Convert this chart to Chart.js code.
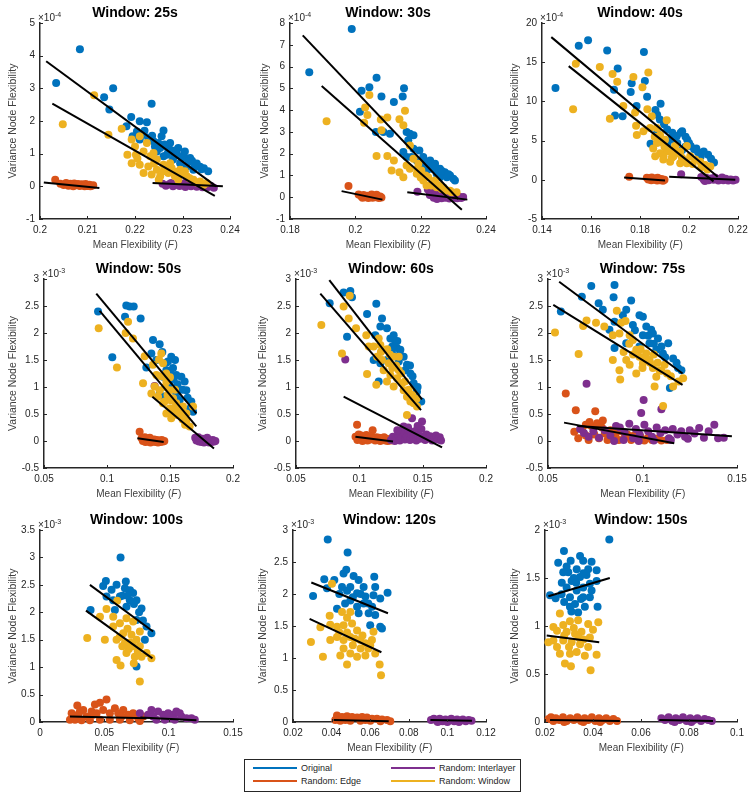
<!DOCTYPE html>
<html>
<head>
<meta charset="utf-8">
<script src="https://cdn.jsdelivr.net/npm/chart.js@4.4.1/dist/chart.umd.min.js"></script>
<style>
  html, body { margin: 0; padding: 0; background: #fff; }
  #stage { position: relative; width: 754px; height: 797px; overflow: hidden; }
  #stage canvas { position: absolute; }
  .legend { position: absolute; left: 244px; top: 759px; width: 275px; height: 31px;
    border: 1px solid #262626; background: #fff; font: 9px "Liberation Sans", Arial, sans-serif; color: #262626; }
  .legend .it { position: absolute; height: 13px; line-height: 13px; white-space: nowrap; }
  .legend .ln { display: inline-block; width: 44px; height: 2px; vertical-align: middle; margin-right: 4px; position: relative; top: -1px; }
</style>
</head>
<body>
<div id="stage">
  <div class="legend">
    <div class="it" style="left:8px;top:2px"><span class="ln" style="background:#0072BD"></span>Original</div>
    <div class="it" style="left:8px;top:15px"><span class="ln" style="background:#D95319"></span>Random: Edge</div>
    <div class="it" style="left:146px;top:2px"><span class="ln" style="background:#7E2F8E"></span>Random: Interlayer</div>
    <div class="it" style="left:146px;top:15px"><span class="ln" style="background:#EDB120"></span>Random: Window</div>
  </div>
</div>
<script>
// ---------- Data (y values in units of the exponent shown on each axis) ----------
const SERIES_NAMES = ['Original', 'Random: Edge', 'Random: Interlayer', 'Random: Window'];

// Window 25s  (y x 1e-4)
const X_TICKS_25 = [0.2, 0.21, 0.22, 0.23, 0.24];
const Y_TICKS_25 = [-1, 0, 1, 2, 3, 4, 5];
const W25_ORIG = [[0.2084,4.20],[0.2034,3.16],[0.2135,2.73],[0.2154,3.00],[0.2146,2.35],[0.2235,2.53],[0.2192,2.12],[0.2210,1.99],[0.2225,1.96],[0.2260,1.71],[0.2256,1.53],[0.2182,1.84],[0.2195,1.53],[0.2204,1.68],[0.2218,1.58],[0.2210,1.43],[0.2228,1.48],[0.2239,1.38],[0.2249,1.33],[0.2242,1.22],[0.2253,1.17],[0.2267,1.22],[0.2274,1.12],[0.2274,1.33],[0.2246,1.07],[0.2267,0.97],[0.2260,0.92],[0.2288,1.02],[0.2291,1.17],[0.2302,0.94],[0.2305,1.07],[0.2280,0.82],[0.2295,0.71],[0.2316,0.87],[0.2309,0.61],[0.2330,0.70],[0.2323,0.51],[0.2337,0.60],[0.2354,0.46],[0.2345,0.55],[0.2283,0.95],[0.2320,0.78],[0.2232,1.42],[0.2262,1.28],[0.2285,1.10],[0.2298,0.85],[0.2312,0.75],[0.2326,0.62],[0.2340,0.52],[0.2220,1.70],[0.2236,1.55],[0.2270,1.05]];
const W25_EDGE = [[0.2032,0.20],[0.2043,0.08],[0.2050,0.04],[0.2055,0.10],[0.2060,0.02],[0.2064,0.08],[0.2068,0.04],[0.2072,0.09],[0.2076,0.03],[0.2080,0.07],[0.2084,0.01],[0.2088,0.06],[0.2092,0.03],[0.2096,0.07],[0.2100,0.01],[0.2104,0.05],[0.2108,0.02],[0.2112,0.03],[0.2058,0.06],[0.2070,0.00],[0.2082,0.03],[0.2094,0.00],[0.2106,0.00]];
const W25_INTER = [[0.2258,0.08],[0.2265,0.02],[0.2272,0.06],[0.2280,0.00],[0.2287,0.05],[0.2294,0.01],[0.2300,0.07],[0.2306,-0.02],[0.2312,0.04],[0.2318,0.00],[0.2324,0.05],[0.2330,-0.01],[0.2336,0.03],[0.2342,-0.03],[0.2348,0.02],[0.2354,-0.02],[0.2360,0.01],[0.2366,-0.04],[0.2290,0.09],[0.2305,0.10],[0.2320,0.08],[0.2276,0.10],[0.2340,0.07]];
const W25_WIN = [[0.2114,2.79],[0.2048,1.90],[0.2144,1.58],[0.2172,1.76],[0.2184,0.97],[0.2193,0.71],[0.2210,0.66],[0.2202,0.97],[0.2218,1.07],[0.2200,1.22],[0.2232,0.92],[0.2235,0.36],[0.2246,0.51],[0.2260,0.66],[0.2270,0.41],[0.2284,0.31],[0.2295,0.51],[0.2309,0.31],[0.2323,0.20],[0.2337,0.15],[0.2351,0.10],[0.2274,0.71],[0.2246,0.82],[0.2228,0.61],[0.2218,0.41],[0.2253,0.31],[0.2260,0.46],[0.2277,0.56],[0.2291,0.20],[0.2305,0.46],[0.2193,1.43],[0.2225,1.33],[0.2239,1.02],[0.2210,1.53],[0.2240,0.70],[0.2265,0.58],[0.2285,0.45],[0.2300,0.38],[0.2315,0.25],[0.2330,0.12],[0.2250,0.20],[0.2205,0.85],[0.2345,0.05]];
const W25_FITS = [[0.2013,3.83,0.2371,0.00],[0.2008,0.12,0.2125,-0.05],[0.2237,0.10,0.2385,0.00],[0.2026,2.53,0.2368,-0.29]];

// Window 30s  (y x 1e-4)
const X_TICKS_30 = [0.18, 0.2, 0.22, 0.24];
const Y_TICKS_30 = [-1, 0, 1, 2, 3, 4, 5, 6, 7, 8];
const W30_ORIG = [[0.1989,7.72],[0.1859,5.74],[0.2065,5.49],[0.2043,5.05],[0.2019,4.89],[0.2080,4.62],[0.2118,4.37],[0.2149,5.00],[0.2145,4.62],[0.2014,3.92],[0.2157,3.00],[0.2167,2.92],[0.2178,2.85],[0.2063,3.00],[0.2086,3.00],[0.2106,2.92],[0.2196,2.15],[0.2178,2.23],[0.2147,2.08],[0.2157,1.85],[0.2208,1.85],[0.2229,1.69],[0.2244,1.54],[0.2233,1.31],[0.2259,1.31],[0.2274,1.15],[0.2290,1.00],[0.2305,0.77],[0.2280,0.92],[0.2249,1.08],[0.2218,1.23],[0.2202,1.46],[0.2188,1.69],[0.2172,1.85],[0.2162,2.62],[0.2259,0.92],[0.2220,1.55],[0.2240,1.40],[0.2265,1.20],[0.2285,1.05],[0.2300,0.85],[0.2210,1.70]];
const W30_EDGE = [[0.1979,0.51],[0.2010,0.12],[0.2018,0.04],[0.2025,0.10],[0.2030,0.00],[0.2036,0.07],[0.2042,0.02],[0.2048,0.09],[0.2053,-0.02],[0.2058,0.05],[0.2063,0.00],[0.2068,0.06],[0.2072,-0.03],[0.2076,0.03],[0.2080,-0.01],[0.2040,-0.03],[0.2050,0.13],[0.2022,-0.02],[0.2065,0.11]];
const W30_INTER = [[0.2190,0.25],[0.2222,0.35],[0.2228,0.10],[0.2234,0.22],[0.2240,-0.02],[0.2246,0.12],[0.2252,0.02],[0.2258,0.18],[0.2264,-0.05],[0.2270,0.08],[0.2276,-0.02],[0.2282,0.12],[0.2288,-0.06],[0.2294,0.05],[0.2300,-0.03],[0.2306,0.08],[0.2312,-0.05],[0.2318,0.02],[0.2324,-0.04],[0.2330,0.01],[0.2260,0.28],[0.2285,0.25],[0.2250,-0.08]];
const W30_WIN = [[0.1912,3.49],[0.2043,4.69],[0.2030,4.12],[0.2037,3.77],[0.2027,3.42],[0.2078,3.57],[0.2098,3.66],[0.2135,3.58],[0.2152,3.97],[0.2147,3.31],[0.2080,3.08],[0.2065,1.89],[0.2098,1.89],[0.2118,1.69],[0.2135,1.15],[0.2147,0.92],[0.2157,1.46],[0.2167,1.31],[0.2178,1.77],[0.2193,1.54],[0.2202,1.23],[0.2208,0.77],[0.2223,0.92],[0.2233,0.54],[0.2249,0.46],[0.2264,0.38],[0.2280,0.31],[0.2295,0.23],[0.2310,0.23],[0.2218,0.54],[0.2244,0.77],[0.2188,1.08],[0.2167,2.38],[0.2111,1.23],[0.2190,1.30],[0.2215,1.00],[0.2240,0.65],[0.2255,0.55],[0.2270,0.45],[0.2290,0.30],[0.2200,0.90]];
const W30_FITS = [[0.1839,7.43,0.2315,-0.08],[0.1958,0.28,0.2083,-0.11],[0.2159,0.23,0.2343,-0.11],[0.1897,5.11,0.2326,-0.57]];

// Window 40s  (y x 1e-4)
const X_TICKS_40 = [0.14, 0.16, 0.18, 0.2, 0.22];
const Y_TICKS_40 = [-5, 0, 5, 10, 15, 20];
const W40_ORIG = [[0.1455,11.7],[0.1550,17.1],[0.1588,17.8],[0.1666,16.5],[0.1709,14.2],[0.1816,16.3],[0.1694,11.5],[0.1698,8.2],[0.1729,8.1],[0.1766,12.3],[0.1762,11.2],[0.1820,12.6],[0.1829,10.6],[0.1786,9.4],[0.1863,8.9],[0.1884,9.7],[0.1870,8.3],[0.1881,7.7],[0.1898,7.1],[0.1911,6.4],[0.1932,6.0],[0.1939,5.3],[0.1966,6.0],[0.1972,6.2],[0.1986,5.5],[0.1993,5.1],[0.2021,3.9],[0.2037,3.5],[0.2078,3.2],[0.2102,2.2],[0.1843,4.6],[0.1911,4.5],[0.1952,4.7],[0.1870,6.0],[0.2048,3.0],[0.2007,4.3],[0.1925,5.1],[0.1972,3.8],[0.1950,5.6],[0.2000,4.7],[0.2030,4.0],[0.2060,3.6],[0.1985,4.2],[0.2090,2.7]];
const W40_EDGE = [[0.1756,0.40],[0.1828,0.25],[0.1834,0.05],[0.1840,0.20],[0.1846,-0.05],[0.1852,0.12],[0.1858,0.00],[0.1864,0.18],[0.1870,-0.10],[0.1876,0.08],[0.1882,-0.05],[0.1888,0.10],[0.1894,-0.12],[0.1900,0.02],[0.1848,0.30],[0.1872,0.25]];
const W40_INTER = [[0.1968,0.70],[0.2050,0.35],[0.2060,0.05],[0.2070,0.25],[0.2080,-0.05],[0.2090,0.15],[0.2100,0.00],[0.2110,0.20],[0.2120,-0.10],[0.2130,0.10],[0.2140,-0.05],[0.2150,0.12],[0.2160,-0.08],[0.2170,0.05],[0.2180,-0.10],[0.2190,0.02],[0.2105,0.30],[0.2135,0.28],[0.2065,-0.15]];
const W40_WIN = [[0.1527,9.0],[0.1538,14.8],[0.1636,14.4],[0.1688,13.5],[0.1707,12.5],[0.1773,13.1],[0.1810,11.8],[0.1834,13.7],[0.1732,9.4],[0.1677,7.8],[0.1780,8.6],[0.1830,9.0],[0.1784,6.9],[0.1787,5.7],[0.1814,6.2],[0.1848,8.1],[0.1841,6.6],[0.1869,6.6],[0.1882,5.7],[0.1909,7.6],[0.1902,5.1],[0.1854,4.0],[0.1862,3.0],[0.1882,3.4],[0.1909,3.8],[0.1923,2.3],[0.1937,3.0],[0.1964,3.6],[0.1991,4.3],[0.2005,3.0],[0.2026,2.6],[0.2046,2.3],[0.2066,1.9],[0.2087,1.7],[0.1964,2.1],[0.1896,3.0],[0.1943,4.3],[0.1971,2.8],[0.1869,4.7],[0.1991,2.1],[0.1880,4.8],[0.1900,4.2],[0.1920,3.6],[0.1950,3.4],[0.1980,2.5],[0.2015,2.0],[0.1930,2.8],[0.1860,5.5],[0.1895,2.6],[0.2050,1.6],[0.2075,1.3]];
const W40_FITS = [[0.1438,18.2,0.2117,0.4],[0.1735,0.3,0.1902,-0.1],[0.1919,0.4,0.2189,0.0],[0.1509,14.5,0.2100,-0.2]];

// Window 50s  (y x 1e-3)
const X_TICKS_50 = [0.05, 0.1, 0.15, 0.2];
const Y_TICKS_50 = [-0.5, 0, 0.5, 1, 1.5, 2, 2.5, 3];
const W50_ORIG = [[0.0929,2.40],[0.1042,1.55],[0.1153,2.51],[0.1180,2.49],[0.1212,2.49],[0.1143,2.30],[0.1267,2.27],[0.1365,1.87],[0.1418,1.79],[0.1439,1.65],[0.1352,1.62],[0.1312,1.36],[0.1392,1.50],[0.1484,1.47],[0.1524,1.35],[0.1550,1.22],[0.1590,1.19],[0.1616,1.10],[0.1630,0.94],[0.1669,0.73],[0.1683,0.54],[0.1445,1.19],[0.1497,1.07],[0.1418,0.88],[0.1550,0.88],[0.1577,0.76],[0.1471,1.31],[0.1458,0.82],[0.1510,1.56],[0.1500,1.30],[0.1530,1.15],[0.1560,1.05],[0.1600,0.95],[0.1640,0.80],[0.1660,0.60],[0.1470,1.45],[0.1540,1.50]];
const W50_EDGE = [[0.1259,0.17],[0.1275,0.05],[0.1285,0.00],[0.1295,0.04],[0.1305,-0.02],[0.1315,0.03],[0.1325,-0.01],[0.1335,0.04],[0.1345,-0.03],[0.1355,0.02],[0.1365,-0.01],[0.1375,0.03],[0.1385,-0.02],[0.1395,0.02],[0.1405,-0.03],[0.1415,0.01],[0.1425,-0.02],[0.1435,0.02],[0.1445,-0.01],[0.1455,0.00],[0.1300,0.07],[0.1340,0.06]];
const W50_INTER = [[0.1378,1.02],[0.1700,0.06],[0.1710,0.01],[0.1720,0.04],[0.1730,-0.01],[0.1740,0.03],[0.1750,-0.02],[0.1760,0.04],[0.1770,-0.03],[0.1780,0.02],[0.1790,-0.02],[0.1800,0.03],[0.1810,-0.03],[0.1820,0.01],[0.1830,-0.02],[0.1840,0.02],[0.1850,-0.01],[0.1860,0.00],[0.1725,0.07],[0.1795,0.06]];
const W50_WIN = [[0.0934,2.09],[0.1079,1.36],[0.1167,2.21],[0.1148,2.00],[0.1206,1.90],[0.1286,1.07],[0.1299,1.57],[0.1365,1.41],[0.1413,1.51],[0.1431,1.62],[0.1445,1.44],[0.1392,1.22],[0.1378,1.01],[0.1418,0.94],[0.1471,1.10],[0.1497,0.94],[0.1524,0.79],[0.1550,0.70],[0.1577,0.57],[0.1590,0.45],[0.1630,0.38],[0.1656,0.27],[0.1471,0.51],[0.1445,0.70],[0.1497,0.60],[0.1405,0.82],[0.1352,0.88],[0.1524,0.51],[0.1603,0.64],[0.1683,0.64],[0.1630,0.51],[0.1510,0.42],[0.1458,0.73],[0.1430,1.20],[0.1460,1.00],[0.1480,0.85],[0.1510,0.75],[0.1540,0.62],[0.1560,0.48],[0.1600,0.40],[0.1620,0.30],[0.1470,1.25],[0.1500,1.18],[0.1540,0.95]];
const W50_FITS = [[0.0915,2.73,0.1709,0.51],[0.1241,0.05,0.1450,-0.02],[0.1360,0.82,0.1849,-0.14],[0.0942,2.41,0.1709,0.27]];

// Window 60s  (y x 1e-3)
const X_TICKS_60 = [0.05, 0.1, 0.15, 0.2];
const Y_TICKS_60 = [-0.5, 0, 0.5, 1, 1.5, 2, 2.5, 3];
const W60_ORIG = [[0.0766,2.55],[0.0876,2.75],[0.0929,2.78],[0.0942,2.66],[0.0903,1.93],[0.1061,2.35],[0.1134,2.54],[0.1179,2.27],[0.1166,2.12],[0.1218,2.09],[0.1126,1.96],[0.1245,1.90],[0.1271,1.96],[0.1284,1.84],[0.1297,1.72],[0.1324,1.69],[0.1350,1.56],[0.1376,1.41],[0.1403,1.25],[0.1429,1.07],[0.1455,0.91],[0.1489,0.73],[0.1166,1.44],[0.1113,1.50],[0.1218,1.50],[0.1153,1.10],[0.1258,1.62],[0.1311,1.47],[0.1363,1.31],[0.1260,1.75],[0.1300,1.85],[0.1320,1.60],[0.1400,1.40],[0.1420,1.20],[0.1460,1.00]];
const W60_EDGE = [[0.0982,0.30],[0.1105,0.20],[0.0970,0.08],[0.0985,0.02],[0.0995,0.12],[0.1005,0.04],[0.1015,0.10],[0.1025,0.00],[0.1035,0.08],[0.1045,0.03],[0.1055,0.11],[0.1065,0.01],[0.1075,0.07],[0.1085,0.03],[0.1095,0.09],[0.1115,0.05],[0.1125,0.01],[0.1135,0.07],[0.1145,0.02],[0.1155,0.06],[0.1165,0.00],[0.1175,0.05],[0.1185,0.02],[0.1195,0.07],[0.1205,0.01],[0.1215,0.04],[0.1225,0.00],[0.1235,0.03],[0.1250,0.01],[0.1265,0.02]];
const W60_INTER = [[0.0889,1.51],[0.1416,0.42],[0.1495,0.36],[0.1350,0.27],[0.1250,0.02],[0.1265,0.08],[0.1280,0.00],[0.1295,0.05],[0.1310,0.10],[0.1320,0.01],[0.1335,0.06],[0.1345,0.16],[0.1360,0.03],[0.1375,0.09],[0.1390,0.20],[0.1400,0.02],[0.1410,0.12],[0.1425,0.05],[0.1440,0.18],[0.1450,0.01],[0.1465,0.10],[0.1480,0.04],[0.1490,0.22],[0.1505,0.08],[0.1520,0.02],[0.1530,0.12],[0.1545,0.05],[0.1560,0.09],[0.1575,0.01],[0.1590,0.06],[0.1605,0.10],[0.1620,0.03],[0.1635,0.07],[0.1645,0.01],[0.1300,0.20],[0.1385,0.25],[0.1460,0.28]];
const W60_WIN = [[0.0700,2.15],[0.0876,2.49],[0.0924,2.69],[0.0916,2.27],[0.0974,2.09],[0.0863,1.62],[0.1055,1.96],[0.1061,1.24],[0.1134,1.04],[0.1113,1.75],[0.1166,1.78],[0.1192,1.69],[0.1140,1.56],[0.1179,1.50],[0.1232,1.44],[0.1271,1.56],[0.1311,1.56],[0.1192,1.31],[0.1245,1.22],[0.1297,1.16],[0.1337,1.07],[0.1350,0.94],[0.1376,0.82],[0.1403,0.73],[0.1429,0.70],[0.1376,0.48],[0.1455,0.64],[0.1271,1.01],[0.1218,1.10],[0.1311,1.31],[0.1153,1.90],[0.1074,1.75],[0.1220,1.70],[0.1260,1.35],[0.1290,1.40],[0.1330,1.25],[0.1360,1.10],[0.1390,0.95],[0.1420,0.85],[0.1450,0.78],[0.1240,1.60],[0.1170,1.65]];
const W60_FITS = [[0.0763,2.98,0.1495,0.77],[0.0969,0.08,0.1266,-0.01],[0.0876,0.82,0.1653,-0.12],[0.0692,2.73,0.1487,0.57]];

// Window 75s  (y x 1e-3)
const X_TICKS_75 = [0.05, 0.1, 0.15];
const Y_TICKS_75 = [-0.5, 0, 0.5, 1, 1.5, 2, 2.5, 3];
const W75_ORIG = [[0.0568,2.40],[0.0679,2.67],[0.0729,2.87],[0.0852,2.89],[0.0847,2.66],[0.0768,2.55],[0.0790,2.43],[0.0940,2.60],[0.0914,2.43],[0.0896,2.33],[0.0852,2.21],[0.0825,2.06],[0.0852,1.72],[0.0949,2.15],[0.0984,2.33],[0.1002,2.30],[0.1020,2.12],[0.1046,2.06],[0.1055,1.99],[0.1082,1.90],[0.1073,1.69],[0.1108,1.62],[0.1136,1.81],[0.1162,1.53],[0.1188,1.35],[0.1206,1.31],[0.1145,0.98],[0.0914,1.81],[0.0984,1.75],[0.1037,1.81],[0.1002,1.96],[0.1030,1.95],[0.1100,1.75],[0.1120,1.55],[0.1180,1.45],[0.1060,1.80],[0.0960,2.05]];
const W75_EDGE = [[0.0594,0.88],[0.0647,0.57],[0.0750,0.55],[0.0639,0.17],[0.0660,0.05],[0.0680,0.22],[0.0700,0.10],[0.0715,0.02],[0.0730,0.28],[0.0745,0.12],[0.0760,0.33],[0.0770,0.05],[0.0785,0.25],[0.0800,0.14],[0.0815,0.02],[0.0830,0.20],[0.0845,0.08],[0.0860,0.15],[0.0875,0.02],[0.0890,0.18],[0.0905,0.06],[0.0920,0.12],[0.0940,0.02],[0.0955,0.10],[0.0970,0.04],[0.0990,0.08],[0.1010,0.01],[0.1030,0.06],[0.1050,0.02],[0.1075,0.04],[0.1100,0.01],[0.1130,0.02],[0.0720,0.35],[0.0790,0.38],[0.0700,0.30]];
const W75_INTER = [[0.0704,1.06],[0.1006,0.76],[0.0993,0.52],[0.1100,0.59],[0.0670,0.22],[0.0690,0.15],[0.0715,0.08],[0.0740,0.18],[0.0770,0.06],[0.0800,0.20],[0.0830,0.10],[0.0860,0.28],[0.0880,0.25],[0.0905,0.16],[0.0930,0.32],[0.0950,0.05],[0.0965,0.22],[0.0985,0.12],[0.1010,0.30],[0.1030,0.18],[0.1050,0.08],[0.1075,0.25],[0.1095,0.15],[0.1120,0.20],[0.1140,0.05],[0.1160,0.22],[0.1185,0.12],[0.1205,0.18],[0.1225,0.08],[0.1250,0.20],[0.1275,0.14],[0.1300,0.24],[0.1325,0.06],[0.1350,0.18],[0.1380,0.30],[0.1400,0.05],[0.1430,0.06],[0.0900,0.02],[0.0980,0.00],[0.1060,0.01],[0.1150,0.02],[0.1240,0.04],[0.0850,0.00]];
const W75_WIN = [[0.0537,2.01],[0.0686,2.13],[0.0662,1.61],[0.0704,2.23],[0.0754,2.19],[0.0798,2.12],[0.0864,2.41],[0.0887,2.19],[0.0843,1.96],[0.0878,1.99],[0.0910,2.22],[0.0932,1.96],[0.0949,1.87],[0.0843,1.50],[0.0878,1.31],[0.0882,1.14],[0.0914,1.50],[0.0932,1.41],[0.0967,1.69],[0.0984,1.56],[0.1002,1.44],[0.1020,1.62],[0.1037,1.50],[0.1055,1.35],[0.1073,1.19],[0.1064,1.01],[0.1090,1.31],[0.1117,1.41],[0.1162,1.01],[0.1215,1.16],[0.0967,1.25],[0.1109,0.65],[0.0950,1.60],[0.0990,1.70],[0.1010,1.55],[0.1040,1.45],[0.1060,1.60],[0.1080,1.45],[0.1100,1.30],[0.1130,1.25],[0.1150,1.20],[0.0900,1.65],[0.0930,1.80],[0.1190,1.10],[0.1000,1.35]];
const W75_FITS = [[0.0559,2.95,0.1212,1.25],[0.0585,0.34,0.1168,-0.04],[0.0656,0.28,0.1473,0.09],[0.0528,2.52,0.1212,1.04]];

// Window 100s  (y x 1e-3)
const X_TICKS_100 = [0, 0.05, 0.1, 0.15];
const Y_TICKS_100 = [0, 0.5, 1, 1.5, 2, 2.5, 3, 3.5];
const W100_ORIG = [[0.0626,3.00],[0.0393,2.04],[0.0512,2.57],[0.0491,2.48],[0.0556,2.41],[0.0595,2.50],[0.0667,2.56],[0.0660,2.44],[0.0724,2.35],[0.0750,2.22],[0.0698,2.22],[0.0672,2.10],[0.0621,2.29],[0.0569,2.22],[0.0517,2.29],[0.0582,2.04],[0.0789,2.07],[0.0750,1.86],[0.0828,1.74],[0.0866,1.62],[0.0815,1.50],[0.0750,1.01],[0.0640,2.30],[0.0700,2.40],[0.0730,2.15],[0.0770,2.00],[0.0800,1.85],[0.0680,2.30]];
const W100_EDGE = [[0.0290,0.30],[0.0517,0.41],[0.0466,0.35],[0.0427,0.32],[0.0336,0.22],[0.0246,0.16],[0.0297,0.13],[0.0362,0.10],[0.0401,0.19],[0.0440,0.16],[0.0491,0.22],[0.0543,0.16],[0.0582,0.25],[0.0608,0.16],[0.0647,0.22],[0.0685,0.13],[0.0724,0.16],[0.0763,0.07],[0.0802,0.10],[0.0233,0.04],[0.0272,0.04],[0.0323,0.03],[0.0388,0.03],[0.0466,0.04],[0.0543,0.04],[0.0621,0.04],[0.0698,0.03],[0.0776,0.02],[0.0414,0.13],[0.0310,0.19],[0.0634,0.10]];
const W100_INTER = [[0.0776,0.16],[0.0866,0.22],[0.0918,0.19],[0.0957,0.13],[0.0996,0.16],[0.1035,0.13],[0.1060,0.19],[0.1099,0.10],[0.1138,0.07],[0.1177,0.07],[0.1203,0.04],[0.0905,0.04],[0.0970,0.04],[0.1047,0.04],[0.0879,0.10],[0.1086,0.16],[0.0840,0.13],[0.1009,0.07]];
const W100_WIN = [[0.0367,1.53],[0.0504,1.50],[0.0600,2.21],[0.0517,2.06],[0.0466,1.92],[0.0569,1.92],[0.0621,1.80],[0.0672,1.89],[0.0724,1.83],[0.0569,1.74],[0.0647,1.62],[0.0711,1.59],[0.0776,1.65],[0.0595,1.50],[0.0660,1.44],[0.0724,1.38],[0.0776,1.38],[0.0672,1.26],[0.0737,1.19],[0.0789,1.19],[0.0828,1.26],[0.0866,1.16],[0.0595,1.13],[0.0626,1.03],[0.0729,1.07],[0.0776,0.74],[0.0620,1.55],[0.0680,1.70],[0.0700,1.45],[0.0750,1.50],[0.0690,1.33],[0.0760,1.28],[0.0640,1.38]];
const W100_FITS = [[0.0388,2.50,0.0879,1.65],[0.0233,0.10,0.0828,0.07],[0.0780,0.08,0.1216,0.03],[0.0357,2.03,0.0874,1.16]];

// Window 120s  (y x 1e-3)
const X_TICKS_120 = [0.02, 0.04, 0.06, 0.08, 0.1, 0.12];
const Y_TICKS_120 = [0, 0.5, 1, 1.5, 2, 2.5, 3];
const W120_ORIG = [[0.0380,2.85],[0.0483,2.65],[0.0304,1.97],[0.0362,2.23],[0.0414,2.22],[0.0462,2.32],[0.0476,2.38],[0.0514,2.28],[0.0540,2.22],[0.0566,2.11],[0.0621,2.27],[0.0626,2.11],[0.0617,1.98],[0.0652,1.93],[0.0690,2.02],[0.0428,1.77],[0.0497,2.11],[0.0532,2.01],[0.0497,1.90],[0.0566,1.85],[0.0532,1.80],[0.0592,1.70],[0.0626,1.67],[0.0652,1.49],[0.0600,1.51],[0.0661,1.46],[0.0376,2.09],[0.0454,2.11],[0.0575,1.96],[0.0440,2.00],[0.0480,2.05],[0.0510,1.95],[0.0550,2.00],[0.0590,1.85],[0.0610,1.80],[0.0540,1.70],[0.0470,1.85]];
const W120_EDGE = [[0.0428,0.10],[0.0454,0.08],[0.0480,0.09],[0.0506,0.08],[0.0532,0.07],[0.0558,0.08],[0.0583,0.07],[0.0609,0.05],[0.0635,0.05],[0.0661,0.04],[0.0687,0.03],[0.0419,0.03],[0.0445,0.02],[0.0497,0.02],[0.0549,0.02],[0.0601,0.02],[0.0653,0.01],[0.0704,0.01],[0.0471,0.03],[0.0575,0.03]];
const W120_INTER = [[0.0915,0.03],[0.0930,0.05],[0.0945,0.02],[0.0960,0.05],[0.0975,0.01],[0.0990,0.04],[0.1005,0.02],[0.1020,0.05],[0.1035,0.01],[0.1050,0.04],[0.1065,0.02],[0.1080,0.04],[0.1095,0.01],[0.1110,0.03],[0.1125,0.02],[0.0950,0.00],[0.1000,0.00],[0.1060,0.00]];
const W120_WIN = [[0.0293,1.25],[0.0355,1.02],[0.0342,1.48],[0.0393,1.52],[0.0402,2.16],[0.0390,1.66],[0.0454,1.72],[0.0497,1.72],[0.0480,1.63],[0.0428,1.49],[0.0462,1.51],[0.0506,1.54],[0.0532,1.43],[0.0428,1.33],[0.0393,1.28],[0.0462,1.28],[0.0497,1.33],[0.0549,1.28],[0.0575,1.23],[0.0609,1.28],[0.0617,1.41],[0.0462,1.15],[0.0497,1.07],[0.0532,1.02],[0.0575,1.04],[0.0445,1.04],[0.0480,0.90],[0.0649,0.90],[0.0656,0.73],[0.0626,1.07],[0.0440,1.40],[0.0480,1.40],[0.0520,1.30],[0.0550,1.15],[0.0590,1.15],[0.0510,1.20],[0.0560,1.35],[0.0600,1.20]];
const W120_FITS = [[0.0295,2.18,0.0692,1.70],[0.0411,0.03,0.0696,0.01],[0.0912,0.03,0.1127,0.02],[0.0286,1.61,0.0658,1.09]];

// Window 150s  (y x 1e-3)
const X_TICKS_150 = [0.02, 0.04, 0.06, 0.08, 0.1];
const Y_TICKS_150 = [0, 0.5, 1, 1.5, 2];
const W150_ORIG = [[0.0468,1.90],[0.0279,1.78],[0.0255,1.66],[0.0307,1.68],[0.0346,1.73],[0.0359,1.68],[0.0394,1.67],[0.0380,1.59],[0.0332,1.59],[0.0297,1.56],[0.0276,1.56],[0.0311,1.47],[0.0346,1.51],[0.0373,1.53],[0.0415,1.58],[0.0415,1.47],[0.0387,1.44],[0.0359,1.40],[0.0332,1.37],[0.0290,1.40],[0.0269,1.33],[0.0221,1.32],[0.0244,1.29],[0.0304,1.30],[0.0359,1.30],[0.0387,1.30],[0.0325,1.23],[0.0366,1.20],[0.0338,1.14],[0.0419,1.20],[0.0304,1.20],[0.0394,1.37],[0.0320,1.50],[0.0290,1.62],[0.0330,1.45],[0.0360,1.55],[0.0280,1.25],[0.0350,1.28],[0.0310,1.15],[0.0270,1.45]];
const W150_EDGE = [[0.0215,0.03],[0.0225,0.05],[0.0235,0.01],[0.0245,0.04],[0.0260,0.02],[0.0275,0.05],[0.0290,0.01],[0.0305,0.04],[0.0320,0.02],[0.0335,0.05],[0.0350,0.01],[0.0365,0.04],[0.0380,0.02],[0.0395,0.05],[0.0410,0.01],[0.0425,0.04],[0.0440,0.02],[0.0455,0.04],[0.0470,0.01],[0.0485,0.03],[0.0500,0.01],[0.0280,0.00],[0.0360,0.00],[0.0430,0.00]];
const W150_INTER = [[0.0685,0.04],[0.0700,0.02],[0.0715,0.05],[0.0730,0.01],[0.0745,0.04],[0.0760,0.02],[0.0775,0.05],[0.0790,0.01],[0.0805,0.04],[0.0820,0.02],[0.0835,0.04],[0.0850,0.01],[0.0865,0.03],[0.0880,0.02],[0.0895,0.01],[0.0740,0.00],[0.0810,0.00]];
const W150_WIN = [[0.0262,1.13],[0.0235,0.99],[0.0214,0.83],[0.0276,1.01],[0.0304,1.05],[0.0338,1.06],[0.0380,1.02],[0.0422,1.04],[0.0290,0.94],[0.0325,0.92],[0.0352,0.94],[0.0387,0.88],[0.0276,0.85],[0.0311,0.83],[0.0346,0.81],[0.0380,0.78],[0.0262,0.71],[0.0304,0.71],[0.0332,0.73],[0.0366,0.69],[0.0415,0.70],[0.0283,0.61],[0.0308,0.58],[0.0390,0.54],[0.0235,0.85],[0.0250,0.95],[0.0280,0.90],[0.0320,0.98],[0.0360,0.86],[0.0300,0.78],[0.0340,0.88],[0.0250,0.78],[0.0400,0.96]];
const W150_FITS = [[0.0214,1.31,0.0470,1.50],[0.0221,0.02,0.0512,0.01],[0.0676,0.02,0.0900,0.01],[0.0207,0.90,0.0426,0.83]];

// ---------- Styling ----------
const FONT = '"Liberation Sans", Arial, Helvetica, sans-serif';
const INK = '#262626';
const COLORS = ['#0072BD', '#D95319', '#7E2F8E', '#EDB120'];   // orig, edge, inter, win
const DRAW_ORDER = [4, 3, 2, 1];                                 // yellow on top, blue at bottom

// panel box = plot area [left, top, right, bottom] in page pixels
const PANELS = [
  { title: 'Window: 25s',  exp: '-4', box: [40, 23, 230, 219],  yOff: 27, xt: X_TICKS_25,  yt: Y_TICKS_25,  sets: [W25_ORIG, W25_EDGE, W25_INTER, W25_WIN],     fits: W25_FITS },
  { title: 'Window: 30s',  exp: '-4', box: [290, 23, 486, 219], yOff: 25, xt: X_TICKS_30,  yt: Y_TICKS_30,  sets: [W30_ORIG, W30_EDGE, W30_INTER, W30_WIN],     fits: W30_FITS },
  { title: 'Window: 40s',  exp: '-4', box: [542, 23, 738, 219], yOff: 27, xt: X_TICKS_40,  yt: Y_TICKS_40,  sets: [W40_ORIG, W40_EDGE, W40_INTER, W40_WIN],     fits: W40_FITS },
  { title: 'Window: 50s',  exp: '-3', box: [44, 279, 233, 468], yOff: 31, xt: X_TICKS_50,  yt: Y_TICKS_50,  sets: [W50_ORIG, W50_EDGE, W50_INTER, W50_WIN],     fits: W50_FITS },
  { title: 'Window: 60s',  exp: '-3', box: [296, 279, 486, 468], yOff: 33, xt: X_TICKS_60, yt: Y_TICKS_60,  sets: [W60_ORIG, W60_EDGE, W60_INTER, W60_WIN],     fits: W60_FITS },
  { title: 'Window: 75s',  exp: '-3', box: [548, 279, 737, 468], yOff: 33, xt: X_TICKS_75, yt: Y_TICKS_75,  sets: [W75_ORIG, W75_EDGE, W75_INTER, W75_WIN],     fits: W75_FITS },
  { title: 'Window: 100s', exp: '-3', box: [40, 530, 233, 722], yOff: 27, xt: X_TICKS_100, yt: Y_TICKS_100, sets: [W100_ORIG, W100_EDGE, W100_INTER, W100_WIN], fits: W100_FITS },
  { title: 'Window: 120s', exp: '-3', box: [293, 530, 486, 722], yOff: 30, xt: X_TICKS_120, yt: Y_TICKS_120, sets: [W120_ORIG, W120_EDGE, W120_INTER, W120_WIN], fits: W120_FITS },
  { title: 'Window: 150s', exp: '-3', box: [545, 530, 737, 722], yOff: 30, xt: X_TICKS_150, yt: Y_TICKS_150, sets: [W150_ORIG, W150_EDGE, W150_INTER, W150_WIN], fits: W150_FITS },
];

const PAD_L = 40, PAD_T = 26, PAD_R = 16, PAD_B = 40;

function fmtTick(v) { return String(+v.toFixed(4)); }

// ---------- Titles, exponent, axis labels, inward ticks ----------
const panelDeco = {
  id: 'panelDeco',
  afterDraw(chart, args, opts) {
    const { ctx, chartArea: a, scales: { x, y } } = chart;
    ctx.save();

    ctx.strokeStyle = INK;
    ctx.lineWidth = 1;
    ctx.beginPath();
    x.ticks.forEach(t => {
      const px = Math.round(x.getPixelForValue(t.value)) + 0.5;
      ctx.moveTo(px, a.bottom); ctx.lineTo(px, a.bottom - 3);
    });
    y.ticks.forEach(t => {
      const py = Math.round(y.getPixelForValue(t.value)) + 0.5;
      ctx.moveTo(a.left, py); ctx.lineTo(a.left + 3, py);
    });
    ctx.stroke();

    // title
    ctx.fillStyle = '#000';
    ctx.font = 'bold 14px ' + FONT;
    ctx.textAlign = 'center';
    ctx.textBaseline = 'middle';
    ctx.fillText(opts.title, (a.left + a.right) / 2, a.top - 10);

    // x10^n
    ctx.fillStyle = INK;
    ctx.textAlign = 'left';
    ctx.textBaseline = 'alphabetic';
    ctx.font = '10px ' + FONT;
    const base = '\u00d710';
    ctx.fillText(base, a.left - 2, a.top - 2);
    const bw = ctx.measureText(base).width;
    ctx.font = '7px ' + FONT;
    ctx.fillText(opts.exp, a.left - 2 + bw, a.top - 6);

    // x axis label, italic F
    const s1 = 'Mean Flexibility (', s2 = 'F', s3 = ')';
    ctx.font = '10px ' + FONT;
    const w1 = ctx.measureText(s1).width, w3 = ctx.measureText(s3).width;
    ctx.font = 'italic 10px ' + FONT;
    const w2 = ctx.measureText(s2).width;
    let sx = (a.left + a.right) / 2 - (w1 + w2 + w3) / 2;
    const sy = a.bottom + 26;
    ctx.textBaseline = 'middle';
    ctx.fillStyle = '#404040';
    ctx.font = '10px ' + FONT;
    ctx.fillText(s1, sx, sy); sx += w1;
    ctx.font = 'italic 10px ' + FONT;
    ctx.fillText(s2, sx, sy); sx += w2 + 0.5;
    ctx.font = '10px ' + FONT;
    ctx.fillText(s3, sx, sy);

    // y axis label
    ctx.font = '10.5px ' + FONT;
    ctx.translate(a.left - opts.yOff, (a.top + a.bottom) / 2);
    ctx.rotate(-Math.PI / 2);
    ctx.textAlign = 'center';
    ctx.fillText('Variance Node Flexibility', 0, 0);
    ctx.restore();
  }
};
Chart.register(panelDeco);

// ---------- Build the nine panels ----------
const stage = document.getElementById('stage');

PANELS.forEach(p => {
  const [L, T, R, B] = p.box;
  const cv = document.createElement('canvas');
  cv.width = R - L + PAD_L + PAD_R;
  cv.height = B - T + PAD_T + PAD_B;
  cv.style.left = (L - PAD_L) + 'px';
  cv.style.top = (T - PAD_T) + 'px';
  cv.style.width = cv.width + 'px';
  cv.style.height = cv.height + 'px';
  stage.appendChild(cv);

  const datasets = [];
  p.fits.forEach((f, i) => {
    datasets.push({
      label: SERIES_NAMES[i] + ' fit',
      data: [{ x: f[0], y: f[1] }, { x: f[2], y: f[3] }],
      showLine: true,
      borderColor: '#000',
      borderWidth: 2,
      pointRadius: 0,
      order: 0
    });
  });
  p.sets.forEach((pts, i) => {
    datasets.push({
      label: SERIES_NAMES[i],
      data: pts.map(d => ({ x: d[0], y: d[1] })),
      backgroundColor: COLORS[i],
      borderWidth: 0,
      pointRadius: 4,
      order: DRAW_ORDER[i]
    });
  });

  const tickFont = { family: FONT, size: 10 };
  new Chart(cv, {
    type: 'scatter',
    data: { datasets },
    options: {
      responsive: false,
      animation: false,
      clip: false,
      layout: { padding: { left: 0, top: PAD_T, right: PAD_R, bottom: 0 } },
      plugins: {
        legend: { display: false },
        tooltip: { enabled: false },
        panelDeco: { title: p.title, exp: p.exp, yOff: p.yOff }
      },
      scales: {
        x: {
          type: 'linear',
          min: p.xt[0], max: p.xt[p.xt.length - 1],
          afterBuildTicks: s => { s.ticks = p.xt.map(v => ({ value: v })); },
          afterFit: s => { s.height = PAD_B; },
          grid: { display: false, drawTicks: false },
          border: { display: true, color: INK, width: 1.5 },
          ticks: { color: INK, font: tickFont, padding: 5, maxRotation: 0, autoSkip: false, callback: fmtTick }
        },
        y: {
          type: 'linear',
          min: p.yt[0], max: p.yt[p.yt.length - 1],
          afterBuildTicks: s => { s.ticks = p.yt.map(v => ({ value: v })); },
          afterFit: s => { s.width = PAD_L; },
          grid: { display: false, drawTicks: false },
          border: { display: true, color: INK, width: 1.5 },
          ticks: { color: INK, font: tickFont, padding: 5, autoSkip: false, callback: fmtTick }
        }
      }
    }
  });
});
</script>
</body>
</html>
